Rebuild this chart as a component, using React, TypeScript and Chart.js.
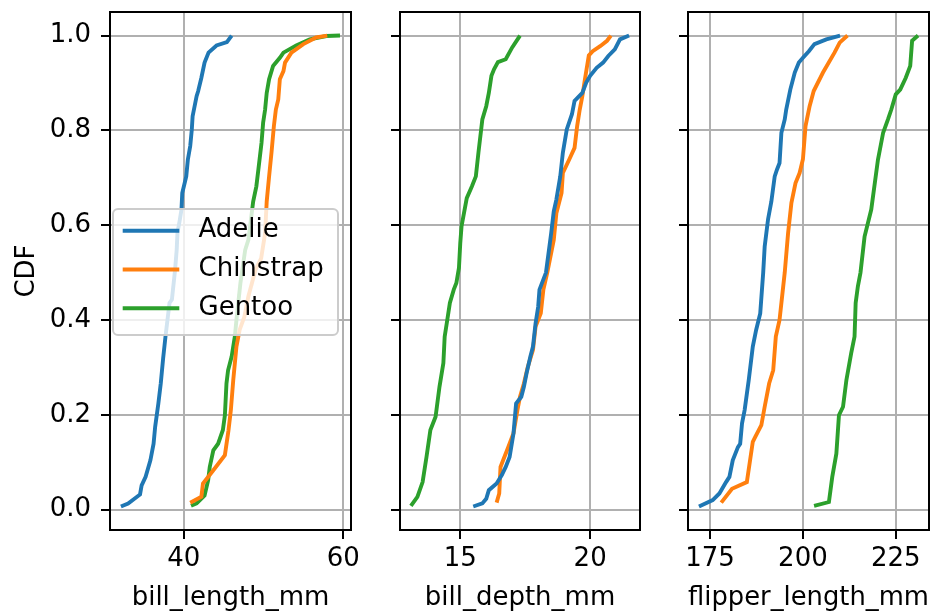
import React, { useEffect, useRef } from 'react';
import { Chart, registerables } from 'chart.js';

Chart.register(...registerables);

const speciesNames = ['Adelie', 'Chinstrap', 'Gentoo'];
const speciesColors = ['#1f77b4', '#ff7f0e', '#2ca02c'];
const axisTitles = ['bill_length_mm', 'bill_depth_mm', 'flipper_length_mm'];
const cdfTicks = [0, 0.2, 0.4, 0.6, 0.8, 1.0];
const billLengthTicks = [40, 60];
const billDepthTicks = [15, 20];
const flipperTicks = [175, 200, 225];

// bill_length_mm CDF
const adelieLenX = [32.1, 33.0, 34.5, 34.7, 35.2, 35.8, 36.2, 36.4, 36.8, 37.1, 37.4, 37.7, 38.2, 38.5, 38.9, 39.1, 39.2, 39.5, 39.7, 39.8, 40.3, 40.5, 40.8, 41.0, 41.1, 41.6, 41.8, 42.2, 42.6, 43.1, 44.1, 45.4, 46.0];
const adelieLenY = [0.0066, 0.013, 0.032, 0.051, 0.069, 0.104, 0.139, 0.175, 0.224, 0.266, 0.319, 0.366, 0.436, 0.443, 0.506, 0.548, 0.584, 0.612, 0.633, 0.668, 0.703, 0.738, 0.767, 0.802, 0.830, 0.872, 0.883, 0.911, 0.943, 0.964, 0.979, 0.986, 1.0];
const chinstrapLenX = [40.8, 42.2, 42.4, 43.7, 45.15, 45.6, 45.9, 46.2, 46.6, 47.0, 47.6, 48.1, 49.0, 49.7, 50.2, 50.4, 50.7, 51.0, 51.3, 51.55, 51.85, 52.05, 52.5, 52.7, 53.5, 55.0, 56.6, 58.0];
const chinstrapLenY = [0.0147, 0.027, 0.055, 0.083, 0.115, 0.167, 0.210, 0.273, 0.344, 0.379, 0.407, 0.45, 0.506, 0.53, 0.583, 0.650, 0.703, 0.753, 0.809, 0.844, 0.865, 0.908, 0.925, 0.943, 0.964, 0.982, 0.996, 1.0];
const gentooLenX = [40.9, 41.6, 42.6, 43.05, 43.25, 43.7, 44.3, 44.9, 45.15, 45.35, 45.55, 46.0, 46.4, 46.6, 47.1, 47.7, 48.1, 48.7, 49.1, 49.35, 49.75, 49.95, 50.2, 50.4, 50.7, 51.2, 52.05, 52.5, 54.1, 55.8, 57.9, 59.6];
const gentooLenY = [0.008, 0.013, 0.030, 0.062, 0.090, 0.125, 0.139, 0.168, 0.199, 0.266, 0.294, 0.323, 0.365, 0.40, 0.478, 0.548, 0.569, 0.650, 0.682, 0.717, 0.774, 0.816, 0.844, 0.879, 0.908, 0.936, 0.953, 0.964, 0.979, 0.992, 0.999, 1.0];

// bill_depth_mm CDF
const adelieDepthX = [15.5, 15.85, 16.0, 16.1, 16.4, 16.6, 16.75, 16.9, 17.05, 17.15, 17.35, 17.45, 17.55, 17.7, 17.8, 17.9, 18.0, 18.05, 18.3, 18.5, 18.6, 18.7, 18.85, 18.95, 19.1, 19.3, 19.4, 19.7, 19.85, 20.0, 20.25, 20.5, 20.7, 20.95, 21.15, 21.5];
const adelieDepthY = [0.0066, 0.013, 0.023, 0.041, 0.055, 0.073, 0.090, 0.111, 0.161, 0.224, 0.238, 0.259, 0.287, 0.323, 0.344, 0.393, 0.428, 0.464, 0.50, 0.583, 0.629, 0.654, 0.703, 0.753, 0.802, 0.834, 0.862, 0.879, 0.901, 0.915, 0.932, 0.943, 0.957, 0.971, 0.992, 1.0];
const chinstrapDepthX = [16.4, 16.5, 16.55, 16.65, 16.85, 17.05, 17.2, 17.3, 17.45, 17.6, 17.8, 17.9, 18.1, 18.2, 18.35, 18.6, 18.7, 18.9, 18.95, 19.2, 19.4, 19.5, 19.6, 19.7, 19.8, 19.95, 20.1, 20.4, 20.65, 20.8];
const chinstrapDepthY = [0.0147, 0.034, 0.090, 0.104, 0.132, 0.161, 0.210, 0.238, 0.266, 0.301, 0.337, 0.386, 0.414, 0.464, 0.50, 0.569, 0.625, 0.668, 0.710, 0.739, 0.763, 0.809, 0.844, 0.872, 0.908, 0.958, 0.967, 0.978, 0.989, 1.0];
const gentooDepthX = [13.1, 13.35, 13.55, 13.7, 13.85, 14.05, 14.1, 14.2, 14.35, 14.4, 14.5, 14.6, 14.75, 14.85, 14.95, 15.0, 15.05, 15.25, 15.45, 15.6, 15.7, 15.85, 16.0, 16.1, 16.2, 16.3, 16.45, 16.75, 17.0, 17.3];
const gentooDepthY = [0.008, 0.027, 0.058, 0.111, 0.168, 0.196, 0.217, 0.259, 0.309, 0.365, 0.40, 0.436, 0.464, 0.478, 0.51, 0.562, 0.598, 0.657, 0.682, 0.703, 0.753, 0.823, 0.851, 0.879, 0.915, 0.929, 0.944, 0.95, 0.975, 1.0];

// flipper_length_mm CDF
const adelieFlipX = [172, 175.7, 177.5, 179.3, 180.2, 181.1, 182.5, 183.1, 183.6, 184.3, 185.4, 186.5, 187.4, 188.5, 189.3, 189.7, 190.6, 191.5, 192.4, 193.0, 193.7, 194.2, 195.1, 195.5, 196.6, 197.8, 198.9, 200.0, 201.6, 203.1, 206.3, 210];
const adelieFlipY = [0.0066, 0.020, 0.034, 0.058, 0.069, 0.104, 0.132, 0.139, 0.182, 0.210, 0.273, 0.344, 0.379, 0.414, 0.50, 0.555, 0.612, 0.650, 0.703, 0.717, 0.731, 0.795, 0.823, 0.844, 0.886, 0.922, 0.943, 0.953, 0.967, 0.982, 0.992, 1.0];
const chinstrapFlipX = [178, 180.9, 184.9, 186.5, 187.2, 188.8, 189.7, 190.9, 192.0, 192.7, 193.7, 194.2, 195.1, 196.0, 196.9, 198.0, 199.1, 200.0, 200.7, 201.8, 202.9, 205.4, 208.5, 209.9, 212];
const chinstrapFlipY = [0.0147, 0.044, 0.058, 0.143, 0.154, 0.178, 0.217, 0.266, 0.294, 0.365, 0.400, 0.436, 0.50, 0.583, 0.647, 0.689, 0.710, 0.739, 0.809, 0.851, 0.883, 0.922, 0.964, 0.985, 1.0];
const gentooFlipX = [203, 207.0, 207.9, 209.0, 209.7, 210.8, 211.7, 213.0, 213.9, 214.2, 214.8, 215.5, 216.6, 218.4, 220.2, 221.6, 222.9, 223.8, 225.0, 226.2, 227.7, 228.9, 229.4, 231];
const gentooFlipY = [0.008, 0.016, 0.069, 0.118, 0.199, 0.217, 0.273, 0.330, 0.365, 0.436, 0.471, 0.50, 0.576, 0.633, 0.738, 0.795, 0.823, 0.844, 0.876, 0.886, 0.911, 0.936, 0.989, 1.0];

const FONT = 'DejaVu Sans';
const FONT_SIZE = 26;
const W = 935;
const H = 611;

type PanelSpec = {
  xs: number[][];
  ys: number[][];
  xMin: number;
  xMax: number;
  xTicks: number[];
  title: string;
  left: number;
  right: number;
  showY: boolean;
  showLegend: boolean;
};

const framePlugin = {
  id: 'frame',
  afterDatasetsDraw(chart: any) {
    const { ctx, chartArea: a } = chart;
    ctx.save();
    ctx.strokeStyle = '#000';
    ctx.lineWidth = 2;
    ctx.strokeRect(a.left, a.top, a.right - a.left, a.bottom - a.top);
    ctx.restore();
  },
};

const legendPlugin = {
  id: 'cdfLegend',
  afterDraw(chart: any, _args: any, opts: any) {
    if (!opts || !opts.show) return;
    const { ctx, chartArea: a } = chart;
    const x0 = a.left + 3;
    const w = 225;
    const h = 126;
    const y0 = (a.top + a.bottom) / 2 + 1 - h / 2;
    ctx.save();
    ctx.beginPath();
    if (ctx.roundRect) ctx.roundRect(x0, y0, w, h, 5);
    else ctx.rect(x0, y0, w, h);
    ctx.fillStyle = 'rgba(255,255,255,0.8)';
    ctx.fill();
    ctx.strokeStyle = '#cccccc';
    ctx.lineWidth = 2;
    ctx.stroke();
    chart.data.datasets.forEach((ds: any, i: number) => {
      const ry = y0 + 21.7 + i * 38.8;
      ctx.beginPath();
      ctx.moveTo(x0 + 9.7, ry);
      ctx.lineTo(x0 + 66.3, ry);
      ctx.strokeStyle = ds.borderColor;
      ctx.lineWidth = 3.9;
      ctx.stroke();
      ctx.fillStyle = '#000';
      ctx.font = `${FONT_SIZE}px "${FONT}"`;
      ctx.textBaseline = 'middle';
      ctx.textAlign = 'left';
      ctx.fillText(ds.label, x0 + 85.5, ry);
    });
    ctx.restore();
  },
};

function clearPadding(s: any) {
  s.paddingTop = 0;
  s.paddingBottom = 0;
  s.paddingLeft = 0;
  s.paddingRight = 0;
}

function makeChart(canvas: HTMLCanvasElement, spec: PanelSpec) {
  const font = { family: FONT, size: FONT_SIZE, lineHeight: 1 };
  return new Chart(canvas, {
    type: 'line',
    data: {
      datasets: speciesNames.map((name, i) => ({
        label: name,
        data: spec.xs[i].map((x, j) => ({ x, y: spec.ys[i][j] })),
        borderColor: speciesColors[i],
        backgroundColor: speciesColors[i],
        borderWidth: 3.9,
        pointRadius: 0,
        tension: 0,
        fill: false,
      })),
    },
    options: {
      animation: false,
      responsive: false,
      maintainAspectRatio: false,
      events: [],
      layout: { padding: { left: 0, right: W - spec.right, top: 12, bottom: 0 } },
      plugins: {
        legend: { display: false },
        tooltip: { enabled: false },
        cdfLegend: { show: spec.showLegend },
      } as any,
      scales: {
        x: {
          type: 'linear',
          position: 'bottom',
          min: spec.xMin,
          max: spec.xMax,
          afterBuildTicks: (s: any) => {
            s.ticks = spec.xTicks.map((v) => ({ value: v }));
          },
          afterFit: (s: any) => {
            s.height = H - 530;
            clearPadding(s);
          },
          grid: { color: '#b0b0b0', lineWidth: 2, tickColor: '#000', tickLength: 9, tickWidth: 2, drawTicks: true },
          border: { display: false },
          ticks: {
            color: '#000',
            font,
            padding: 7,
            maxRotation: 0,
            autoSkip: false,
            callback: (v: any) => String(v),
          },
          title: { display: true, text: spec.title, color: '#000', font, padding: { top: 0, bottom: 0 } },
        },
        y: {
          type: 'linear',
          position: 'left',
          min: -0.043,
          max: 1.0497,
          afterBuildTicks: (s: any) => {
            s.ticks = cdfTicks.map((v) => ({ value: v }));
          },
          afterFit: (s: any) => {
            s.width = spec.left;
            clearPadding(s);
          },
          grid: { color: '#b0b0b0', lineWidth: 2, tickColor: '#000', tickLength: 9, tickWidth: 2, drawTicks: true },
          border: { display: false },
          ticks: {
            color: '#000',
            font,
            padding: 10,
            autoSkip: false,
            callback: (v: any) => (spec.showY ? Number(v).toFixed(1) : ''),
          },
          title: { display: spec.showY, text: 'CDF', color: '#000', font, padding: { top: 14, bottom: 0 } },
        },
      },
    } as any,
    plugins: [framePlugin, legendPlugin],
  });
}

const panels: PanelSpec[] = [
  {
    xs: [adelieLenX, chinstrapLenX, gentooLenX],
    ys: [adelieLenY, chinstrapLenY, gentooLenY],
    xMin: 30.73,
    xMax: 60.98,
    xTicks: billLengthTicks,
    title: axisTitles[0],
    left: 110,
    right: 351,
    showY: true,
    showLegend: true,
  },
  {
    xs: [adelieDepthX, chinstrapDepthX, gentooDepthX],
    ys: [adelieDepthY, chinstrapDepthY, gentooDepthY],
    xMin: 12.68,
    xMax: 21.92,
    xTicks: billDepthTicks,
    title: axisTitles[1],
    left: 400,
    right: 640,
    showY: false,
    showLegend: false,
  },
  {
    xs: [adelieFlipX, chinstrapFlipX, gentooFlipX],
    ys: [adelieFlipY, chinstrapFlipY, gentooFlipY],
    xMin: 169.05,
    xMax: 233.95,
    xTicks: flipperTicks,
    title: axisTitles[2],
    left: 688,
    right: 929,
    showY: false,
    showLegend: false,
  },
];

export default function App() {
  const r0 = useRef<HTMLCanvasElement>(null);
  const r1 = useRef<HTMLCanvasElement>(null);
  const r2 = useRef<HTMLCanvasElement>(null);

  useEffect(() => {
    const refs = [r0, r1, r2];
    const charts = refs.map((r, i) => makeChart(r.current as HTMLCanvasElement, panels[i]));
    return () => charts.forEach((c) => c.destroy());
  }, []);

  const cs: React.CSSProperties = { position: 'absolute', left: 0, top: 0, width: W, height: H };
  return (
    <div style={{ position: 'fixed', left: 0, top: 0, width: W, height: H, background: '#fff' }}>
      <canvas ref={r0} width={W} height={H} style={cs} />
      <canvas ref={r1} width={W} height={H} style={cs} />
      <canvas ref={r2} width={W} height={H} style={cs} />
    </div>
  );
}
